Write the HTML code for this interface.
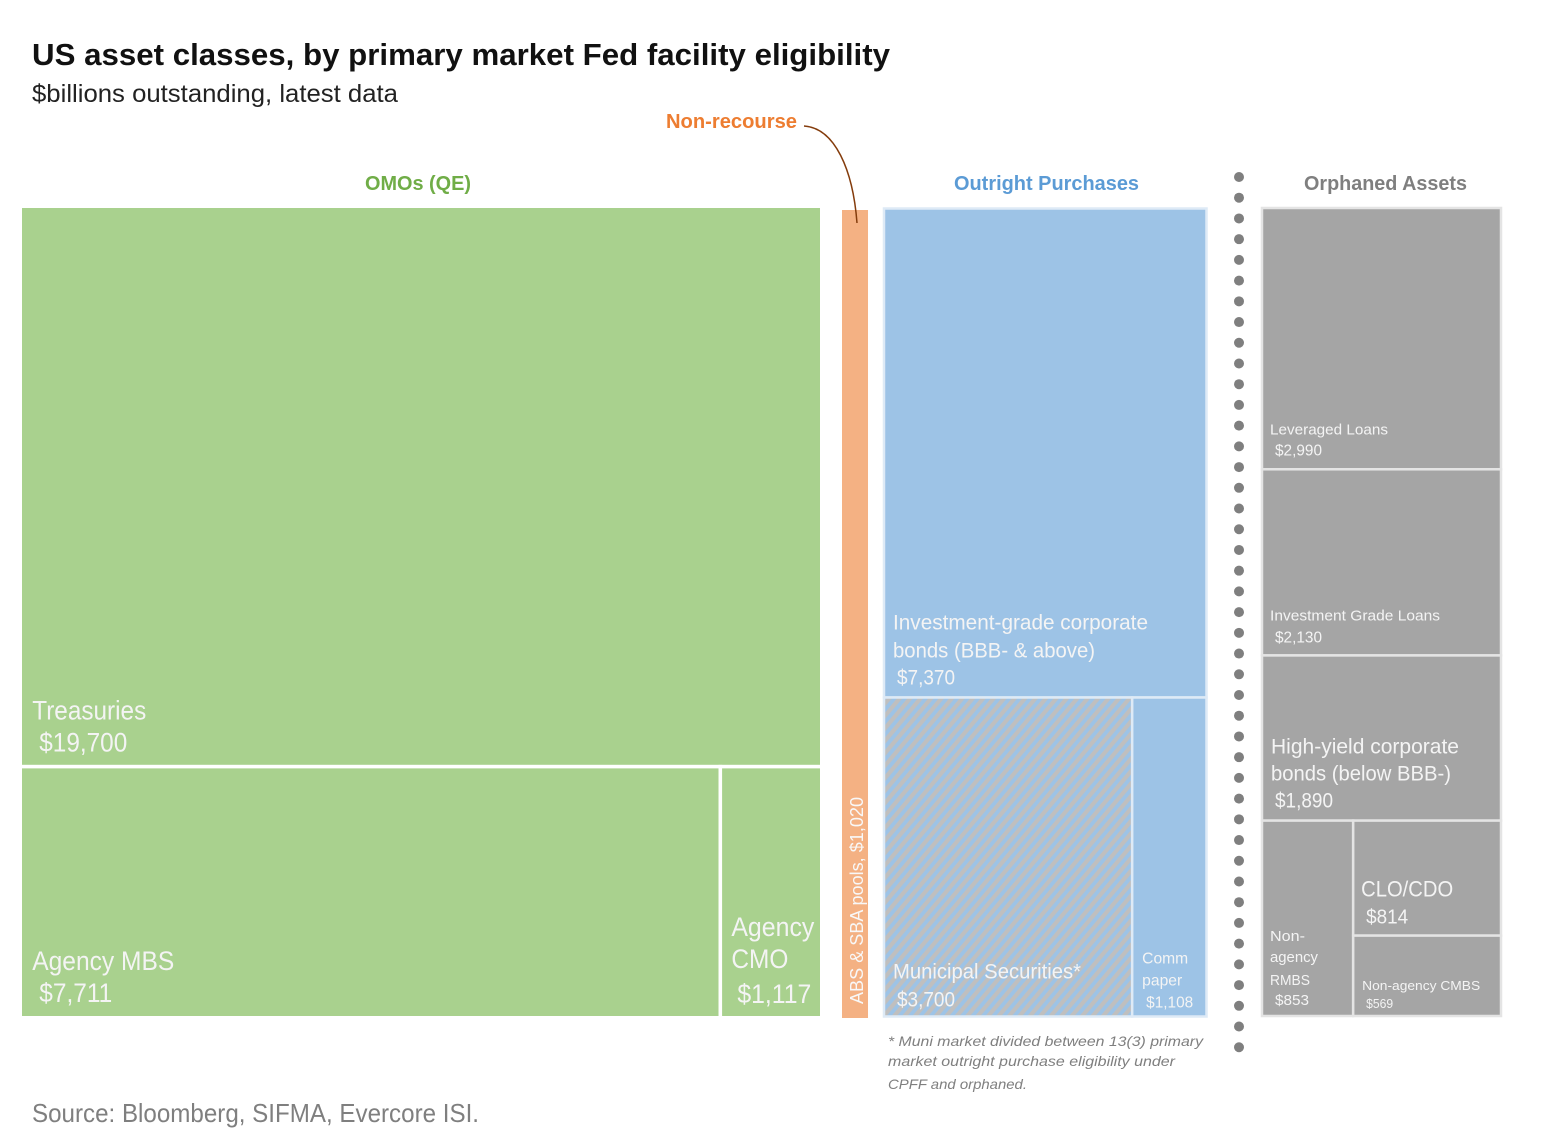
<!DOCTYPE html>
<html lang="en">
<head>
<meta charset="utf-8">
<title>US asset classes, by primary market Fed facility eligibility</title>
<style>
html,body{margin:0;padding:0;background:#fff;width:1560px;height:1146px;overflow:hidden}
svg{display:block;filter:blur(0.35px)}
text{font-family:"Liberation Sans",Arial,sans-serif}
</style>
</head>
<body>
<svg id="chart" xmlns="http://www.w3.org/2000/svg" width="1560" height="1146" viewBox="0 0 1560 1146">
  <defs>
    <pattern id="hatch" width="8" height="8" patternUnits="userSpaceOnUse" patternTransform="rotate(40)">
      <rect width="8" height="8" fill="#9dc3e6"></rect>
      <rect width="4.2" height="8" fill="#bfbfbf"></rect>
    </pattern>
  </defs>
  <rect width="1560" height="1146" fill="#fff"></rect>
  <text x="32" y="65" font-size="31" font-weight="700" fill="#111" textLength="858" lengthAdjust="spacingAndGlyphs">US asset classes, by primary market Fed facility eligibility</text>
  <text x="32" y="102" font-size="25" fill="#222" textLength="366" lengthAdjust="spacingAndGlyphs">$billions outstanding, latest data</text>
  <text x="365" y="190" font-size="20" font-weight="700" fill="#70ad47" textLength="106" lengthAdjust="spacingAndGlyphs">OMOs (QE)</text>
  <text x="954" y="190" font-size="20" font-weight="700" fill="#5b9bd5" textLength="185" lengthAdjust="spacingAndGlyphs">Outright Purchases</text>
  <text x="1304" y="190" font-size="20" font-weight="700" fill="#7f7f7f" textLength="163" lengthAdjust="spacingAndGlyphs">Orphaned Assets</text>
  <text x="666" y="128" font-size="20" font-weight="700" fill="#ed7d31" textLength="131" lengthAdjust="spacingAndGlyphs">Non-recourse</text>
  <g id="cells"></g>
  <path d="M804 126 C835 128 853 170 857 223" fill="none" stroke="#843c0c" stroke-width="1.5"></path>
  <g id="divider"></g>
  <g id="labels"></g>
  <g font-size="14" font-style="italic" fill="#7f7f7f">
    <text x="888" y="1046" textLength="315" lengthAdjust="spacingAndGlyphs">* Muni market divided between 13(3) primary</text>
    <text x="888" y="1066" textLength="287" lengthAdjust="spacingAndGlyphs">market outright purchase eligibility under</text>
    <text x="888" y="1089" textLength="139" lengthAdjust="spacingAndGlyphs">CPFF and orphaned.</text>
  </g>
  <text x="32" y="1122" font-size="26" fill="#7f7f7f" textLength="447" lengthAdjust="spacingAndGlyphs">Source: Bloomberg, SIFMA, Evercore ISI.</text>
</svg>
<script>
// ---- data (US$ billions outstanding) ----
const omoNames = ['Treasuries', 'Agency MBS', 'Agency CMO'];
const omoValues = [19700, 7711, 1117];
const absName = 'ABS & SBA pools';
const absValue = 1020;
const outrightNames = ['Investment-grade corporate bonds', 'Municipal Securities', 'Comm paper'];
const outrightValues = [7370, 3700, 1108];
const orphanedNames = ['Leveraged Loans', 'Investment Grade Loans', 'High-yield corporate bonds', 'Non-agency RMBS', 'CLO/CDO', 'Non-agency CMBS'];
const orphanedValues = [2990, 2130, 1890, 853, 814, 569];

// ---- helpers ----
const NS = 'http://www.w3.org/2000/svg';
const cellsG = document.getElementById('cells');
const labelsG = document.getElementById('labels');
const sum = a => a.reduce((p, c) => p + c, 0);
const fmt = v => '$' + v.toLocaleString('en-US');
const slug = s => s.toLowerCase().replace(/[^a-z0-9]+/g, '-').replace(/^-|-$/g, '');

// axis functions: map a value share onto a pixel span of a box
const scaleRows = (box, total) => v => v / total * box.h;
const scaleCols = (box, total) => v => v / total * box.w;

function splitRow(box, v, rest) {
  const h = scaleRows(box, v + rest)(v);
  return [{x: box.x, y: box.y, w: box.w, h: h}, {x: box.x, y: box.y + h, w: box.w, h: box.h - h}];
}
function splitCol(box, v, rest) {
  const w = scaleCols(box, v + rest)(v);
  return [{x: box.x, y: box.y, w: w, h: box.h}, {x: box.x + w, y: box.y, w: box.w - w, h: box.h}];
}

function drawCell(box, name, fill, stroke, sw) {
  const r = document.createElementNS(NS, 'rect');
  r.setAttribute('x', box.x);
  r.setAttribute('y', box.y);
  r.setAttribute('width', Math.max(0, box.w));
  r.setAttribute('height', Math.max(0, box.h));
  r.setAttribute('fill', fill);
  r.setAttribute('stroke', stroke);
  r.setAttribute('stroke-width', sw);
  
  
  cellsG.appendChild(r);
}

// lines: [text, dx from cell left, dy up from cell bottom, font size, width]
function drawLabel(box, name, lines) {
  lines.forEach((l, i) => {
    const t = document.createElementNS(NS, 'text');
    t.textContent = l[0];
    t.setAttribute('x', box.x + l[1]);
    t.setAttribute('y', box.y + box.h - l[2]);
    t.setAttribute('font-size', l[3]);
    t.setAttribute('fill', '#f4f4f4');
    t.setAttribute('textLength', l[4]);
    t.setAttribute('lengthAdjust', 'spacingAndGlyphs');
    
    
    labelsG.appendChild(t);
  });
}

// ---- OMOs group ----
const GREEN = '#a9d18e';
const omoBox = {x: 20.25, y: 206.25, w: 801.5, h: 811.5};
const [treasBox, omoRest] = splitRow(omoBox, omoValues[0], omoValues[1] + omoValues[2]);
const [mbsBox, cmoBox] = splitCol(omoRest, omoValues[1], omoValues[2]);
drawCell(treasBox, omoNames[0], GREEN, '#fff', 3.5);
drawCell(mbsBox, omoNames[1], GREEN, '#fff', 3.5);
drawCell(cmoBox, omoNames[2], GREEN, '#fff', 3.5);
drawLabel(treasBox, omoNames[0], [['Treasuries', 12, 47, 27, 114], [fmt(omoValues[0]), 19, 15, 27, 88]]);
drawLabel(mbsBox, omoNames[1], [['Agency MBS', 12, 48, 27, 142], [fmt(omoValues[1]), 19, 16, 27, 73]]);
drawLabel(cmoBox, 'agency-cmo', [['Agency', 11, 82, 27, 83], ['CMO', 11, 50, 27, 57], [fmt(omoValues[2]), 17, 15, 27, 74]]);

// ---- ABS column (width follows its value) ----
const absWidth = v => v * 0.0255;
const absBox = {x: 842, y: 210, w: absWidth(absValue), h: 808};
drawCell(absBox, absName, '#f4b183', 'none', 0);
const absText = document.createElementNS(NS, 'text');
absText.textContent = absName + ', ' + fmt(absValue);
absText.setAttribute('transform', 'translate(' + (absBox.x + 21) + ',1004) rotate(-90)');
absText.setAttribute('font-size', '18');
absText.setAttribute('fill', '#f8f8f8');
absText.setAttribute('textLength', '207');
absText.setAttribute('lengthAdjust', 'spacingAndGlyphs');


labelsG.appendChild(absText);

// ---- Outright purchases group ----
const BLUE = '#9dc3e6';
const PALE_BLUE = '#deeaf6';
const outBox = {x: 884, y: 208.5, w: 322.5, h: 808};
const [igBox, outRest] = splitRow(outBox, outrightValues[0], outrightValues[1] + outrightValues[2]);
const [muniBox, cpBox] = splitCol(outRest, outrightValues[1], outrightValues[2]);
drawCell(igBox, outrightNames[0], BLUE, PALE_BLUE, 2.5);
drawCell(muniBox, outrightNames[1], 'url(#hatch)', PALE_BLUE, 2.5);
drawCell(cpBox, outrightNames[2], BLUE, PALE_BLUE, 2.5);
drawLabel(igBox, outrightNames[0], [['Investment-grade corporate', 9, 68, 21, 255], ['bonds (BBB- & above)', 9, 40, 21, 202], [fmt(outrightValues[0]), 13, 13, 21, 58]]);
drawLabel(muniBox, outrightNames[1], [['Municipal Securities*', 9, 38, 21, 188], [fmt(outrightValues[1]), 13, 10, 21, 58]]);
drawLabel(cpBox, outrightNames[2], [['Comm', 10, 53, 16, 46], ['paper', 10, 31, 16, 40], [fmt(outrightValues[2]), 14, 9, 16, 47]]);

// ---- Orphaned assets group ----
const GRAY = '#a5a5a5';
const PALE_GRAY = '#e4e4e4';
const orphBox = {x: 1262, y: 208, w: 239, h: 808};
const orphRestTail = sum(orphanedValues.slice(3));
const [levBox, r1] = splitRow(orphBox, orphanedValues[0], orphanedValues[1] + orphanedValues[2] + orphRestTail);
const [iglBox, r2] = splitRow(r1, orphanedValues[1], orphanedValues[2] + orphRestTail);
const [hyBox, r3] = splitRow(r2, orphanedValues[2], orphRestTail);
const [rmbsBox, r4] = splitCol(r3, orphanedValues[3], orphanedValues[4] + orphanedValues[5]);
const [cloBox, cmbsBox] = splitRow(r4, orphanedValues[4], orphanedValues[5]);
[levBox, iglBox, hyBox, rmbsBox, cloBox, cmbsBox].forEach((b, i) => drawCell(b, orphanedNames[i], GRAY, PALE_GRAY, 2.5));
drawLabel(levBox, orphanedNames[0], [['Leveraged Loans', 8, 35, 15, 118], [fmt(orphanedValues[0]), 13, 14, 16, 47]]);
drawLabel(iglBox, orphanedNames[1], [['Investment Grade Loans', 8, 35, 15, 170], [fmt(orphanedValues[1]), 13, 13, 16, 47]]);
drawLabel(hyBox, orphanedNames[2], [['High-yield corporate', 9, 67, 21, 188], ['bonds (below BBB-)', 9, 40, 21, 180], [fmt(orphanedValues[2]), 13, 13, 21, 58]]);
drawLabel(rmbsBox, orphanedNames[3], [['Non-', 8, 75, 15, 35], ['agency', 8, 54, 15, 48], ['RMBS', 8, 31, 15, 40], [fmt(orphanedValues[3]), 13, 11, 15, 34]]);
drawLabel(cloBox, orphanedNames[4], [['CLO/CDO', 8, 39, 22, 92], [fmt(orphanedValues[4]), 13, 12, 20, 42]]);
drawLabel(cmbsBox, orphanedNames[5], [['Non-agency CMBS', 9, 26, 13, 118], [fmt(orphanedValues[5]), 13, 8, 13, 27]]);

// ---- dotted divider ----
const dividerG = document.getElementById('divider');
for (let i = 0; i < 43; i++) {
  const c = document.createElementNS(NS, 'circle');
  c.setAttribute('cx', 1239);
  c.setAttribute('cy', 177 + i * 20.72);
  c.setAttribute('r', 5);
  c.setAttribute('fill', '#7f7f7f');
  
  
  dividerG.appendChild(c);
}
</script>
</body>
</html>
